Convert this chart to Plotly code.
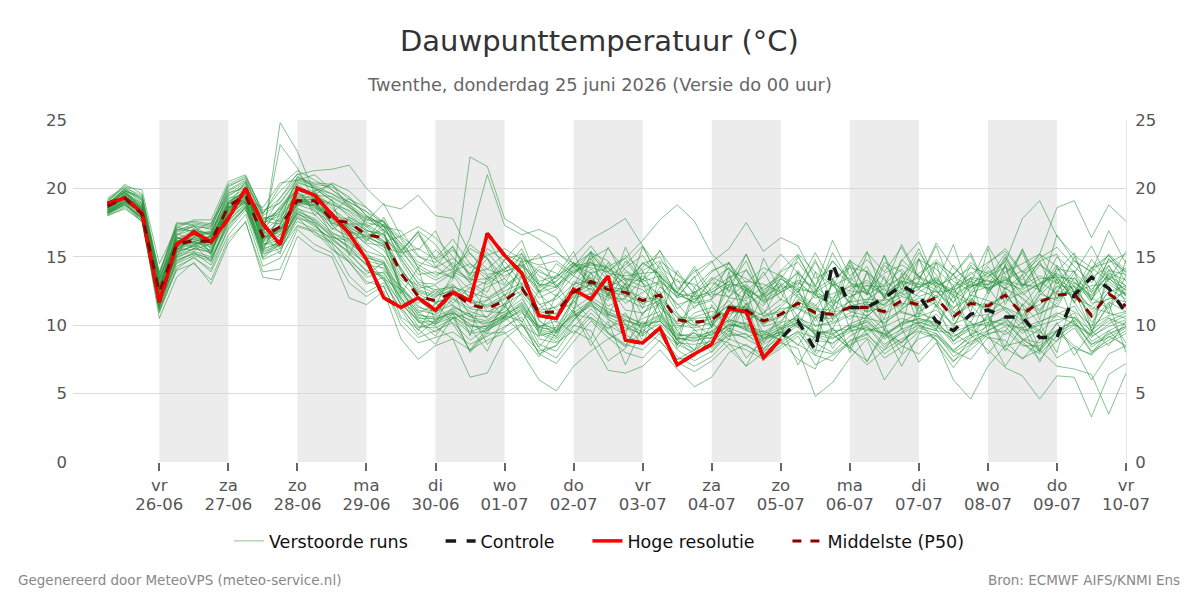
import plotly.graph_objects as go
import pandas as pd

# ---------------- data ----------------
times = pd.date_range("2026-06-25 06:00", periods=60, freq="6h")

day_ticks = ["2026-06-26", "2026-06-27", "2026-06-28", "2026-06-29", "2026-06-30",
             "2026-07-01", "2026-07-02", "2026-07-03", "2026-07-04", "2026-07-05",
             "2026-07-06", "2026-07-07", "2026-07-08", "2026-07-09", "2026-07-10"]
day_names = ["vr", "za", "zo", "ma", "di", "wo", "do", "vr", "za", "zo", "ma", "di", "wo", "do", "vr"]
day_labels = ["26-06", "27-06", "28-06", "29-06", "30-06", "01-07", "02-07", "03-07",
              "04-07", "05-07", "06-07", "07-07", "08-07", "09-07", "10-07"]
shade_start = ["2026-06-26", "2026-06-28", "2026-06-30", "2026-07-02", "2026-07-04", "2026-07-06", "2026-07-08"]
shade_end = ["2026-06-27", "2026-06-29", "2026-07-01", "2026-07-03", "2026-07-05", "2026-07-07", "2026-07-09"]

p50 = [18.7,19.3,18.1,12.4,15.9,16.2,16.1,18.7,19.5,16.5,17.2,19.1,19.1,17.7,17.5,16.6,16.4,13.8,12.1,11.8,
       12.4,11.5,11.2,11.8,12.7,10.9,11.0,12.4,13.2,12.6,12.4,11.8,12.2,10.4,10.2,10.4,11.3,11.1,10.3,10.8,
       11.6,10.9,10.8,11.3,11.3,11.0,11.8,11.5,12.0,10.6,11.6,11.4,12.2,10.8,11.7,12.2,12.3,10.7,12.3,11.4]

hres = [18.9,19.3,18.2,11.7,15.9,16.8,16.1,17.8,20.0,17.4,15.9,20.0,19.5,18.1,16.7,14.8,12.0,11.3,12.0,11.1,
        12.4,11.8,16.7,15.1,13.8,10.7,10.5,12.6,11.9,13.6,8.9,8.7,9.8,7.1,7.9,8.6,11.2,11.0,7.6,9.0]

control = [18.9,19.3,18.2,11.7,15.9,16.8,16.1,17.8,20.0,17.4,15.9,20.0,19.5,18.1,16.7,14.8,12.0,11.3,12.0,11.1,
           12.4,11.8,16.7,15.1,13.8,10.7,10.5,12.6,11.9,13.6,8.9,8.7,9.8,7.1,7.9,8.6,11.2,11.0,7.6,9.0,
           10.3,8.2,14.5,11.3,11.3,12.0,12.9,12.2,10.3,9.6,10.8,11.1,10.6,10.6,9.1,9.1,12.2,13.5,12.7,10.9]

m01 = [18.5,19.6,18.8,12.9,16.4,16.0,15.2,18.9,19.8,16.1,17.9,19.5,18.6,18.2,17.0,15.9,15.1,13.2,11.8,10.9,12.9,12.1,10.4,11.2,13.5,11.6,10.2,12.9,14.1,13.0,11.6,12.4,13.1,10.9,9.6,9.8,12.0,11.8,9.4,10.1,12.3,11.5,9.7,12.1,12.6,10.4,11.1,12.4,13.2,11.0,10.2,12.5,13.4,11.9,10.8,11.6,13.1,12.0,11.2,12.8]
m02 = [18.9,19.9,18.5,11.6,15.2,16.5,16.9,19.4,20.3,17.2,16.4,18.7,19.9,17.3,16.2,14.8,13.4,12.6,10.9,11.5,13.7,11.9,12.8,13.4,12.1,9.8,10.6,13.2,12.6,11.8,13.9,13.1,11.4,9.6,10.9,11.3,10.5,12.4,11.1,9.7,10.8,12.2,11.6,10.4,11.9,12.7,10.9,10.6,12.9,12.2,11.5,10.1,12.8,11.4,13.0,13.6,11.7,9.8,13.5,12.1]
m03 = [18.2,19.0,17.9,13.1,16.8,17.2,16.5,18.1,19.0,15.4,18.3,20.1,19.3,18.8,18.4,17.5,17.2,14.9,13.0,12.6,11.4,10.6,11.9,12.7,14.0,12.3,11.1,11.6,13.8,14.2,12.9,10.7,12.8,11.6,10.1,9.2,11.4,12.9,10.6,11.5,12.7,9.9,10.3,11.8,10.6,11.9,13.1,11.0,11.7,9.8,12.4,12.8,11.0,10.1,12.2,13.4,12.6,11.3,10.9,10.5]
m04 = [19.1,20.3,19.6,13.8,17.5,17.3,17.0,20.1,20.8,18.4,18.9,20.6,20.2,19.6,19.0,18.3,16.9,15.8,14.2,13.5,14.6,13.1,12.4,14.8,15.2,13.6,12.9,14.1,15.3,14.7,13.2,14.5,15.0,12.8,11.9,12.6,13.5,14.0,12.1,12.9,13.8,12.6,13.4,14.2,13.9,12.5,13.6,14.8,14.1,12.9,13.7,14.6,15.4,13.8,14.9,15.7,14.3,13.1,15.2,14.0]
m05 = [18.0,18.6,17.6,10.9,14.1,15.0,13.9,16.6,18.1,14.3,14.9,17.2,16.8,16.1,14.6,13.2,12.8,10.4,9.1,9.6,10.2,8.9,9.8,10.5,11.1,8.6,8.1,9.9,11.2,10.0,9.3,8.6,9.9,8.2,7.4,8.1,9.6,9.0,8.3,9.1,10.0,8.7,8.0,9.2,9.9,8.4,9.5,10.3,9.7,8.1,9.3,9.9,10.6,9.0,8.7,10.1,10.9,8.8,9.6,10.2]
m06 = [18.6,19.4,18.3,12.2,15.6,15.9,16.3,18.5,19.3,16.8,15.2,19.2,18.9,17.0,17.8,16.1,17.4,14.6,12.7,12.9,11.6,12.8,11.0,10.9,12.4,11.2,12.1,13.6,12.9,11.4,12.0,13.4,12.1,10.8,9.9,10.7,11.8,10.4,10.9,11.9,11.2,10.5,11.9,11.0,10.7,11.6,12.4,11.2,12.6,11.3,12.0,10.9,11.8,12.4,11.1,12.9,12.0,11.4,12.7,11.9]
m07 = [18.4,19.1,18.0,11.3,15.4,16.7,15.6,18.2,19.6,17.6,17.4,19.8,18.3,17.5,16.9,16.0,15.8,12.9,11.4,10.7,11.9,11.0,10.6,11.6,13.0,10.3,9.6,12.0,12.3,12.9,11.1,10.9,11.6,9.8,10.6,11.0,10.8,11.4,9.9,10.3,11.9,11.3,10.2,10.9,11.6,10.1,11.2,12.0,11.5,10.0,11.9,11.1,12.5,10.4,12.3,11.8,12.9,10.2,11.7,11.0]
m08 = [19.0,19.7,18.9,13.5,16.1,16.6,16.7,19.6,20.4,18.1,20.2,21.3,20.6,19.9,18.9,17.3,16.4,15.3,15.6,14.8,13.9,14.5,13.6,12.9,13.8,12.7,13.5,14.6,13.4,12.5,14.2,15.1,13.3,12.0,12.4,13.1,12.6,11.9,12.8,13.6,12.1,11.4,12.9,13.5,12.2,13.0,14.1,12.7,13.4,12.3,13.9,12.6,13.3,14.0,12.6,14.4,13.2,12.1,13.8,13.3]
m09 = [18.3,18.8,17.8,10.5,13.5,14.6,13.0,16.0,17.6,13.5,13.3,16.5,15.5,15.0,12.0,11.5,12.5,9.0,7.5,8.5,9.0,8.2,8.9,9.4,10.1,7.9,7.2,8.8,10.3,9.1,8.0,7.6,8.9,7.3,6.6,7.4,8.6,8.2,7.5,8.3,9.2,7.1,7.8,8.6,9.1,7.6,8.4,9.5,9.0,7.4,8.2,9.3,9.9,8.6,7.9,9.2,10.0,8.1,8.9,9.6]
m10 = [18.8,19.5,18.4,12.0,16.0,16.3,15.8,18.6,19.1,16.2,24.8,22.7,19.6,18.5,17.6,16.3,15.5,13.4,12.5,12.1,12.6,11.3,11.5,12.2,12.9,10.8,11.4,12.7,13.5,12.2,12.8,11.5,12.5,10.1,10.4,10.0,11.1,10.8,10.5,11.2,11.4,11.1,10.6,11.5,11.0,11.3,12.1,11.7,11.8,10.8,11.4,11.6,12.0,11.1,11.5,12.5,12.2,10.9,12.0,11.7]
m11 = [18.7,19.2,18.6,12.6,16.2,15.6,16.4,18.8,19.9,16.6,23.2,21.5,19.0,17.9,17.3,16.8,16.0,14.2,12.3,11.6,12.2,11.7,11.3,11.9,12.5,11.0,10.8,12.2,13.0,12.8,12.6,12.0,11.9,10.6,10.0,10.5,11.5,11.2,10.1,10.6,11.8,10.7,11.0,11.1,11.5,10.8,11.6,11.4,12.2,10.5,11.8,11.2,12.4,10.6,11.9,12.0,12.5,10.5,12.5,11.2]
m12 = [18.1,18.9,17.5,11.1,14.7,15.3,14.4,17.1,18.7,15.0,16.3,18.2,17.4,15.9,13.6,12.4,13.1,11.2,9.8,10.2,10.8,9.5,10.0,10.8,11.4,9.4,8.8,10.4,11.9,10.9,10.1,9.5,10.7,8.9,8.2,8.9,10.1,9.7,8.8,9.6,10.6,9.3,8.6,9.9,10.4,9.1,10.2,10.9,10.4,8.8,9.9,10.5,11.2,9.7,9.4,10.8,11.4,9.4,10.3,10.9]
m13 = [19.3,20.1,19.9,14.5,17.1,17.7,17.7,20.5,21.0,18.2,19.8,21.0,21.3,21.4,21.7,20.0,18.8,18.5,19.5,18.0,17.8,15.2,14.1,13.6,14.3,12.4,12.8,13.9,14.6,13.3,12.7,13.6,12.9,11.5,11.9,12.3,12.1,13.0,11.6,12.4,13.1,12.2,11.4,12.6,13.3,12.1,12.9,13.5,12.8,11.7,12.9,13.0,13.6,12.2,13.1,13.8,12.9,11.9,13.4,12.6]
m14 = [18.5,19.4,18.7,12.7,16.6,17.0,16.6,19.2,20.0,17.0,18.4,20.3,19.4,18.9,18.1,17.0,16.2,14.1,12.4,12.0,13.3,22.3,21.6,17.8,17.0,16.3,15.4,14.2,13.1,12.1,13.0,12.6,11.3,10.2,11.4,11.8,10.2,11.6,10.0,11.3,12.5,10.3,11.5,12.4,10.9,12.0,11.3,13.2,12.6,10.9,12.2,11.8,11.3,10.7,12.6,11.3,13.5,11.6,11.9,12.4]
m15 = [18.6,19.8,19.2,13.3,16.9,17.4,17.2,19.9,20.6,17.9,17.6,20.9,20.1,19.3,18.6,17.8,17.0,15.6,13.7,13.9,13.5,16.4,21.0,17.3,16.6,17.0,16.4,14.4,13.8,12.6,12.4,14.6,13.7,11.2,12.2,13.5,12.9,11.5,12.3,13.1,12.0,11.0,13.0,12.5,12.4,11.4,12.7,12.1,12.5,11.2,12.8,13.3,12.7,12.0,11.0,12.8,12.8,11.1,12.4,12.9]
m16 = [18.8,19.7,18.9,13.0,16.3,16.9,17.5,19.5,20.2,17.3,18.6,20.4,20.0,19.1,17.9,16.9,16.6,14.8,13.1,13.0,13.8,12.6,13.2,14.1,15.0,13.9,13.4,15.0,16.3,17.0,17.8,15.8,14.1,12.4,11.6,13.3,14.2,12.7,11.8,12.6,13.3,12.8,16.2,13.6,14.8,13.3,12.3,13.8,14.6,13.2,12.5,13.6,14.2,13.0,12.8,14.1,13.9,12.6,14.0,13.7]
m17 = [18.4,19.3,18.3,12.3,15.7,16.1,16.5,18.3,19.4,16.9,17.8,19.6,19.2,17.7,17.2,16.4,15.9,13.6,12.9,12.3,12.8,12.4,12.0,12.8,13.6,12.0,12.6,13.8,14.5,14.3,14.9,16.2,17.7,18.8,17.6,15.2,14.0,13.4,12.6,13.4,12.6,12.4,13.2,12.0,12.9,12.8,13.5,13.0,12.4,12.6,13.2,12.7,13.3,12.9,13.6,13.1,12.4,12.9,13.0,12.2]
m18 = [18.7,19.5,18.0,12.1,15.5,16.4,16.2,18.4,19.2,16.4,16.8,18.9,19.0,17.4,17.9,17.2,17.7,15.1,13.4,12.4,13.0,11.6,11.8,12.5,13.1,11.5,11.9,13.0,13.3,12.8,13.4,12.8,13.2,12.1,13.5,14.6,15.6,17.5,15.4,16.4,15.8,13.4,14.1,13.1,12.6,13.8,14.4,13.6,12.9,13.4,14.2,13.8,12.6,13.7,14.5,13.3,12.1,13.5,14.3,12.8]
m19 = [18.3,19.0,18.2,12.5,15.8,16.0,15.9,18.0,19.0,16.0,17.0,19.0,18.8,17.8,17.4,16.7,16.1,13.9,12.0,11.7,12.0,11.2,11.0,11.5,12.3,10.6,10.9,12.1,12.7,12.0,11.9,11.3,11.8,10.0,9.8,10.2,11.0,10.9,10.2,10.7,11.3,10.6,10.5,11.4,11.7,11.5,12.5,12.8,13.5,12.0,13.0,13.8,14.6,17.8,19.1,16.5,15.1,14.2,14.6,15.2]
m20 = [18.6,19.2,18.4,12.8,16.1,16.6,16.0,18.7,19.7,16.7,17.5,19.3,19.4,18.0,17.7,16.9,16.7,14.0,12.6,12.2,12.5,11.9,11.4,12.0,12.8,11.1,11.3,12.5,13.0,12.4,12.2,11.6,12.0,10.6,10.5,10.6,11.4,11.3,10.7,11.0,11.7,11.2,11.1,11.7,11.9,11.8,12.2,12.6,12.0,12.8,13.4,12.9,13.9,14.5,15.2,18.6,19.1,16.4,18.8,17.6]
m21 = [18.2,18.9,17.7,11.4,14.5,15.1,14.7,17.4,18.5,15.2,15.6,17.6,17.0,16.4,15.3,13.9,13.6,11.5,10.4,9.9,9.0,6.2,6.5,9.0,10.0,9.2,9.6,10.8,10.5,9.8,10.4,9.9,10.3,9.1,8.8,9.4,9.9,10.2,9.0,9.3,10.2,9.6,9.4,10.0,9.6,9.9,10.5,10.1,10.8,9.5,10.0,10.4,10.0,9.8,10.3,10.7,10.1,9.2,9.9,10.4]
m22 = [18.5,19.3,18.1,12.0,15.3,15.8,15.5,18.1,19.1,15.8,16.6,18.5,18.1,16.8,16.0,15.0,14.5,12.2,10.8,10.4,10.9,10.1,9.4,9.5,8.0,6.0,5.2,7.0,8.1,9.0,9.6,10.5,11.0,9.4,9.0,9.6,10.4,10.0,9.5,10.2,10.5,10.0,10.1,10.7,10.5,10.2,11.0,10.6,11.1,10.1,10.6,10.8,11.3,10.3,10.9,11.4,11.0,10.0,10.7,11.0]
m23 = [18.1,18.7,17.7,11.0,14.3,14.9,14.1,17.0,18.4,14.8,15.4,17.9,16.6,16.0,14.9,13.5,13.9,11.8,9.9,9.8,10.5,9.4,9.6,10.4,11.0,9.0,8.7,9.6,8.9,6.7,6.5,7.0,8.2,6.8,5.5,6.2,8.0,8.6,7.6,8.5,9.4,8.2,7.9,8.8,9.3,8.2,9.0,9.6,9.2,8.0,8.8,9.4,9.6,8.5,8.5,9.5,10.1,8.6,9.1,9.8]
m24 = [18.4,19.0,17.8,11.8,15.0,15.4,15.0,17.6,18.9,15.6,16.0,18.4,17.6,16.6,15.7,14.4,14.2,11.9,10.6,10.1,10.6,9.9,9.9,10.6,11.6,9.6,9.2,10.6,11.4,10.6,10.0,9.2,10.4,8.6,8.0,8.5,9.2,9.4,8.1,8.7,8.3,4.8,5.8,7.6,9.0,6.0,7.8,9.0,9.4,8.2,9.1,9.6,10.2,9.0,8.1,9.6,10.3,8.6,9.4,9.9]
m25 = [18.2,18.8,17.9,11.5,14.8,15.2,14.9,17.3,18.6,15.3,15.8,18.0,17.2,16.3,15.2,14.0,13.8,12.0,10.2,10.3,11.0,10.0,9.7,10.3,11.2,9.5,9.0,10.4,11.6,10.4,9.8,9.4,10.1,8.7,8.6,8.8,9.8,9.3,8.6,9.4,10.1,8.9,8.7,9.5,10.0,8.6,9.4,10.0,8.9,6.0,4.6,7.0,8.5,8.8,7.5,8.9,9.8,8.0,8.7,9.4]
m26 = [18.6,19.3,18.2,12.4,15.9,16.1,15.7,18.3,19.3,16.3,16.9,18.8,18.4,17.1,16.5,15.4,15.0,12.8,11.3,11.0,11.5,10.6,10.3,11.0,11.9,10.0,9.8,11.2,12.1,11.2,10.7,10.1,10.8,9.3,9.2,9.5,10.4,10.1,9.3,9.9,10.7,9.6,9.3,10.1,10.6,9.3,10.0,10.5,10.1,8.6,9.3,8.2,6.9,6.3,4.6,6.3,6.2,3.3,6.4,7.2]
m27 = [18.3,19.1,18.0,11.9,15.1,15.6,15.3,17.9,18.8,15.9,16.2,18.3,17.8,16.7,16.3,15.1,14.7,12.5,10.7,10.6,11.2,10.3,10.1,10.8,11.7,9.9,9.5,10.9,11.8,11.0,10.4,9.8,10.5,9.0,8.9,9.1,10.1,9.8,9.0,9.8,10.4,9.3,9.0,9.8,10.2,9.0,9.7,10.2,9.9,8.9,9.7,9.1,8.3,7.6,8.2,7.0,6.8,6.4,3.5,6.5]
m28 = [18.9,19.8,19.4,13.2,17.2,16.8,16.8,19.3,19.5,17.8,18.1,20.0,19.5,20.4,19.8,18.6,17.2,16.9,15.1,14.2,15.8,13.6,16.3,14.2,12.6,14.1,13.0,11.2,14.9,12.1,15.7,13.1,10.4,14.0,12.2,9.9,13.6,10.8,14.9,12.4,10.6,13.9,10.4,14.4,11.0,13.6,9.7,14.9,11.3,13.8,10.9,15.6,11.5,13.7,10.4,14.3,11.6,13.9,10.8,14.8]
m29 = [18.5,19.4,18.6,12.6,15.0,17.1,15.1,18.8,20.5,15.6,17.3,20.2,18.0,19.2,15.1,18.0,16.8,12.3,14.2,10.1,12.7,9.2,13.6,11.3,14.9,9.2,12.3,10.9,15.4,10.7,13.1,9.2,13.7,8.5,12.5,9.8,13.9,9.6,12.4,9.0,13.9,9.1,13.4,9.7,14.0,9.6,13.8,10.7,14.6,10.3,13.5,9.4,14.5,10.5,9.6,13.4,10.1,9.3,14.1,11.6]
m30 = [18.7,20.0,19.1,12.9,16.5,15.7,16.6,19.0,19.8,17.1,16.6,19.4,19.7,18.7,17.0,16.2,17.9,15.5,16.8,14.3,13.4,15.9,14.9,13.0,15.3,12.4,13.6,15.4,12.2,14.6,12.0,15.7,13.5,12.4,14.1,11.9,14.6,12.0,13.9,11.8,15.0,12.9,11.7,14.8,12.3,15.1,12.6,14.8,13.0,15.9,12.1,14.3,12.6,15.5,13.2,12.3,15.0,12.4,14.8,13.9]
m31 = [18.6,19.6,18.8,12.4,16.7,16.2,15.4,18.4,19.7,16.0,15.8,18.6,17.5,15.6,14.7,13.7,14.6,11.4,9.6,11.7,10.1,8.2,9.8,11.4,10.0,8.4,9.9,11.8,10.4,9.4,8.4,10.9,11.9,8.3,9.7,8.3,9.8,7.6,9.0,9.5,8.5,10.6,8.3,9.9,7.3,9.7,8.7,10.2,8.9,7.3,9.0,10.7,8.1,9.9,7.3,9.7,8.5,7.8,9.2,8.5]
m32 = [18.2,19.1,18.5,12.2,15.5,16.8,16.2,18.0,19.6,16.9,18.7,19.9,19.8,20.3,18.6,17.6,18.9,16.5,15.5,16.9,14.2,15.3,13.7,14.0,15.6,12.8,14.5,13.6,15.4,13.9,14.9,13.3,15.5,12.6,13.9,14.7,12.4,15.2,12.4,14.0,15.2,13.9,12.9,14.7,13.9,12.8,15.9,13.5,14.8,13.6,12.7,14.5,15.6,13.9,15.2,13.0,14.7,13.9,15.1,13.8]
m33 = [18.8,19.7,18.4,13.4,16.4,16.0,16.1,18.7,18.9,15.7,17.4,19.0,18.7,16.6,15.6,14.4,13.3,11.1,9.3,10.4,11.1,9.8,8.1,10.7,10.3,7.9,8.5,10.3,11.7,9.4,8.5,10.3,9.3,7.5,7.7,9.1,8.7,7.0,8.0,9.5,8.6,7.8,9.3,8.3,7.4,9.3,8.5,7.9,9.3,8.1,7.5,9.1,8.9,7.5,9.0,9.6,8.3,7.9,9.6,8.3]
m34 = [18.4,19.2,18.3,11.9,15.7,16.4,16.8,19.0,19.9,16.5,17.0,19.2,19.2,18.2,19.3,18.0,17.3,16.3,14.2,15.5,14.4,13.1,15.6,14.7,13.0,14.3,13.8,12.9,15.1,13.9,12.6,14.2,15.4,13.7,12.3,13.9,14.6,12.5,13.6,15.2,13.8,12.4,14.7,13.2,12.2,14.6,13.9,12.6,14.6,13.7,15.1,12.3,14.3,13.3,15.2,14.3,12.4,14.2,15.1,13.6]
m35 = [19.2,20.0,19.5,13.7,17.3,17.5,17.3,20.3,20.9,18.2,19.3,20.8,20.4,20.3,19.2,18.6,17.5,16.4,15.0,14.6,15.5,14.2,15.1,15.6,14.8,14.4,14.7,13.8,14.9,15.6,14.0,13.3,14.3,13.2,13.0,12.1,12.8,13.2,13.0,12.4,14.0,12.2,15.3,13.1,11.6,14.4,13.0,15.3,13.7,11.6,14.4,12.9,15.0,12.8,14.7,11.9,13.8,15.8,13.3,14.2]
m36 = [18.0,18.5,17.6,11.2,14.0,14.5,13.3,16.3,17.5,13.9,14.1,17.0,15.9,15.3,13.1,12.1,12.9,10.0,8.7,9.1,9.5,8.6,9.2,9.9,10.6,8.3,7.6,9.3,10.6,9.5,8.6,8.2,9.4,7.7,7.0,7.7,9.0,8.5,7.9,8.7,9.6,7.8,7.4,8.9,9.4,7.9,8.8,9.8,9.4,7.7,8.6,9.6,10.3,8.9,8.3,9.6,10.4,8.4,9.3,9.9]
m37 = [18.9,19.9,19.3,13.6,17.4,17.6,17.4,20.2,20.7,18.0,19.0,20.7,20.3,20.1,19.4,18.0,17.3,16.0,14.6,14.2,14.9,13.8,14.1,15.2,14.6,14.9,15.3,14.5,14.2,13.9,15.1,14.0,14.7,13.7,12.8,14.0,14.5,13.1,14.2,13.6,12.9,15.3,13.0,11.7,15.3,13.9,15.7,13.3,16.0,14.2,13.1,15.8,13.7,15.3,12.4,16.6,14.7,13.9,16.9,14.5]
m38 = [18.3,19.2,18.1,11.7,15.1,15.9,14.6,17.8,19.2,14.9,16.0,18.2,17.3,16.2,15.4,14.5,13.3,11.6,10.3,9.5,10.5,10.9,8.6,9.8,10.9,9.9,10.3,9.4,10.9,9.7,10.9,8.9,9.6,8.6,9.5,8.0,9.4,9.1,9.6,8.9,9.5,9.1,9.8,8.4,9.7,9.4,8.7,9.9,9.6,9.4,8.6,10.1,9.3,10.2,9.5,8.8,10.6,9.6,8.5,10.3]
m39 = [18.6,19.5,18.7,12.8,16.3,16.6,16.4,18.9,19.4,17.5,18.0,19.7,18.7,17.6,16.9,15.3,14.0,12.8,11.1,10.8,12.3,13.0,12.1,10.4,13.8,10.4,9.1,11.9,13.9,10.5,9.2,14.0,11.0,8.9,12.8,10.2,8.9,12.7,10.8,13.0,9.9,8.0,13.4,11.6,9.3,10.5,13.3,10.0,9.6,12.9,9.3,12.2,14.4,10.2,8.0,12.5,14.0,9.6,11.4,13.6]
m40 = [18.5,19.6,18.2,12.5,16.6,17.3,15.9,18.5,20.1,16.3,17.7,19.0,19.1,17.3,17.4,17.4,16.6,15.0,16.6,14.8,15.7,13.4,14.9,12.1,14.3,15.2,12.7,14.5,12.8,15.7,13.3,11.2,14.6,12.0,13.6,10.2,12.9,14.7,11.8,13.4,15.1,12.7,11.2,14.6,12.3,15.1,11.4,13.2,15.8,12.5,11.7,14.0,12.9,15.6,12.4,13.9,15.3,11.8,14.4,12.1]
m41 = [18.9,19.3,18.6,12.3,15.6,15.5,16.0,18.6,19.0,16.7,16.9,18.9,19.3,17.8,17.1,16.5,17.0,12.7,10.3,9.2,10.9,8.0,9.4,11.6,9.2,7.7,9.5,11.0,8.5,10.3,7.1,9.9,11.7,8.9,7.8,10.1,9.2,11.6,8.2,9.9,7.1,9.3,11.4,8.0,10.8,9.7,7.0,9.3,11.5,8.8,10.3,7.9,9.5,11.5,8.1,10.2,7.8,9.5,11.6,8.0]
m42 = [18.3,19.0,18.3,12.1,15.4,15.8,16.6,18.4,19.5,16.2,17.2,19.3,18.5,18.1,16.8,16.6,15.7,15.3,16.9,15.9,14.1,15.6,14.9,13.4,14.7,12.5,13.2,14.6,13.2,12.2,14.7,13.1,12.2,13.4,11.2,12.8,14.2,12.3,11.4,13.4,12.4,14.6,12.9,11.6,13.8,12.0,14.8,13.6,12.0,14.4,12.8,13.4,14.7,12.7,14.4,13.6,11.7,14.2,13.2,12.3]
m43 = [19.1,19.9,19.0,13.9,17.0,16.9,16.7,19.7,20.0,17.6,18.5,19.9,19.5,19.4,18.7,17.7,17.6,15.9,14.4,13.7,14.1,13.4,13.0,13.9,14.5,13.2,13.6,14.3,14.6,13.8,13.6,13.8,13.9,12.3,12.1,12.4,13.2,12.5,12.0,12.8,12.8,12.3,12.0,12.9,13.1,12.3,13.2,13.0,13.1,12.4,13.5,13.2,13.1,12.6,13.4,13.5,13.4,12.4,13.6,12.9]
m44 = [18.2,18.9,17.8,11.3,14.9,15.6,15.4,17.7,18.7,15.5,16.1,18.1,17.7,16.4,16.2,14.9,14.6,12.4,11.0,10.0,11.3,10.8,9.8,10.7,11.5,9.7,9.4,10.7,11.7,10.8,10.3,10.0,10.7,9.2,9.4,9.0,10.0,9.9,9.1,9.5,10.3,9.4,9.6,9.7,10.3,9.2,10.2,10.4,10.0,9.2,9.8,10.2,10.4,9.6,10.0,10.4,10.6,9.1,10.1,10.7]
m45 = [18.7,19.7,18.5,12.7,16.2,16.3,16.3,19.1,19.6,17.3,19.3,21.1,20.0,19.1,18.3,17.2,16.1,16.5,17.2,16.4,15.0,13.7,15.3,13.9,14.4,12.9,13.2,14.3,15.8,14.1,13.0,14.5,13.7,12.2,11.7,13.4,12.0,14.1,12.1,13.7,12.4,14.8,11.6,13.2,14.3,11.9,13.4,15.6,12.7,13.7,15.3,12.5,14.9,13.0,12.6,15.0,13.9,11.8,14.9,13.2]
m46 = [18.6,19.4,18.5,12.5,15.3,16.9,16.0,18.9,19.5,17.0,15.6,17.3,16.9,15.5,14.6,13.0,13.5,10.6,9.7,8.6,10.6,8.1,9.6,10.6,9.4,8.1,8.5,10.0,9.6,7.4,8.3,9.7,8.8,7.5,8.2,9.6,8.3,7.0,9.4,8.9,7.5,6.8,9.8,8.4,7.1,8.2,9.8,7.3,8.7,6.9,8.5,9.4,7.0,8.9,9.7,7.6,8.4,6.0,7.9,8.5]
m47 = [18.8,19.8,18.3,12.6,16.0,16.1,16.5,18.6,19.2,18.6,20.4,20.6,21.0,19.9,19.0,18.3,17.5,15.4,16.8,14.9,16.3,14.5,13.3,14.8,16.2,13.0,12.1,14.4,15.3,13.5,14.4,15.8,13.2,12.4,14.3,12.4,13.2,15.2,12.2,13.9,14.6,12.9,14.7,13.3,15.4,12.0,14.7,16.1,13.1,12.6,14.6,13.5,15.2,12.9,14.7,15.2,12.3,14.8,13.3,15.4]
m48 = [18.4,19.3,18.4,12.9,15.9,16.5,15.3,18.2,19.8,16.1,17.1,18.8,18.8,18.0,16.3,16.5,15.9,12.6,11.6,12.6,12.8,10.7,10.6,12.3,10.2,12.6,9.4,11.1,9.0,12.4,10.0,8.6,11.9,9.6,8.1,11.5,9.5,12.7,8.7,10.9,9.8,12.6,9.4,8.3,11.5,10.0,7.9,11.4,9.7,12.2,9.2,10.8,8.4,11.6,10.1,8.0,12.5,9.6,10.6,8.7]
m49 = [19.0,20.2,19.2,13.4,17.0,17.2,17.1,19.8,20.5,17.7,18.3,20.5,20.0,19.6,18.8,17.9,17.2,15.4,14.0,13.3,13.9,13.3,13.4,14.2,14.4,13.0,12.8,14.0,14.4,14.2,13.4,13.2,13.6,12.4,11.6,11.9,13.0,12.8,11.7,12.4,13.2,12.0,12.3,12.8,12.9,12.2,13.2,12.8,13.3,12.2,13.0,12.7,13.5,12.4,13.0,13.7,13.1,12.2,13.7,12.5]
m50 = [18.1,18.8,17.9,11.6,14.6,15.3,14.8,17.5,18.6,15.4,15.9,17.8,17.5,16.5,15.8,14.7,14.4,12.0,10.5,10.5,10.9,10.4,10.2,10.6,11.3,9.8,9.7,10.7,11.5,10.7,10.6,10.1,10.3,9.0,9.1,9.3,10.3,9.6,9.2,9.7,10.2,9.5,9.1,9.6,9.8,9.4,10.1,10.5,10.2,9.1,10.1,10.0,10.6,9.4,10.2,10.9,10.5,9.3,10.5,10.0]

members = [m01, m02, m03, m04, m05, m06, m07, m08, m09, m10, m11, m12, m13, m14, m15, m16, m17,
           m18, m19, m20, m21, m22, m23, m24, m25, m26, m27, m28, m29, m30, m31, m32, m33, m34,
           m35, m36, m37, m38, m39, m40, m41, m42, m43, m44, m45, m46, m47, m48, m49, m50]

bad = [(i + 1, len(m)) for i, m in enumerate(members) if len(m) != 60]
assert not bad, f"length mismatch: {bad}, p50={len(p50)}, control={len(control)}, hres={len(hres)}"
assert len(p50) == 60 and len(control) == 60 and len(hres) == 40

legend_names = ["Verstoorde runs", "Controle", "Hoge resolutie", "Middelste (P50)"]

# ---------------- figure ----------------
FONT = "DejaVu Sans"
PAD = "\u00a0" * 5
fig = go.Figure()

for i, m in enumerate(members):
    fig.add_trace(go.Scatter(
        x=times, y=m, mode="lines", name=legend_names[0] + PAD,
        legendgroup="runs", showlegend=(i == 0),
        line=dict(color="rgba(34,145,56,0.55)", width=1),
        hoverinfo="skip"))

fig.add_trace(go.Scatter(x=times, y=control, mode="lines", name=legend_names[1] + PAD,
                         line=dict(color="#1a1a1a", width=3.5, dash="dash")))
fig.add_trace(go.Scatter(x=times[:len(hres)], y=hres, mode="lines", name=legend_names[2] + PAD,
                         line=dict(color="#ff0000", width=3.5)))
fig.add_trace(go.Scatter(x=times, y=p50, mode="lines", name=legend_names[3],
                         line=dict(color="#8b0000", width=3, dash="dash")))
# invisible traces that carry the right-hand y axis and the second x label row
fig.add_trace(go.Scatter(x=[times[0]], y=[None], yaxis="y2", showlegend=False,
                         hoverinfo="skip", mode="lines"))
fig.add_trace(go.Scatter(x=[times[0]], y=[None], xaxis="x2", showlegend=False,
                         hoverinfo="skip", mode="lines"))

shapes = [dict(type="rect", xref="x", yref="paper", x0=s, x1=e, y0=0, y1=1,
               fillcolor="#ececec", line=dict(width=0), layer="below")
          for s, e in zip(shade_start, shade_end)]

tickfont = dict(family=FONT, size=16.5, color="#555")

fig.update_layout(
    width=1200, height=600,
    paper_bgcolor="white", plot_bgcolor="white",
    margin=dict(l=73, r=74, t=120, b=138),
    font=dict(family=FONT, color="#555", size=16),
    shapes=shapes,
    showlegend=True,
    legend=dict(orientation="h", x=0.5, xanchor="center", y=-0.231, yanchor="middle",
                font=dict(family=FONT, size=17.5, color="#111"), itemwidth=30,
                bgcolor="rgba(0,0,0,0)"),
    xaxis=dict(type="date", range=["2026-06-24 18:00", "2026-07-10 00:00"],
               tickmode="array", tickvals=day_ticks, ticktext=day_names,
               ticks="outside", ticklen=8, tickwidth=2, tickcolor="#666",
               showgrid=False, zeroline=False, showline=False,
               tickfont=tickfont),
    xaxis2=dict(type="date", matches="x", overlaying="x", anchor="y", side="bottom",
                tickmode="array", tickvals=day_ticks, ticktext=day_labels,
                ticks="", ticklabelstandoff=30,
                showgrid=False, zeroline=False, showline=False,
                tickfont=tickfont),
    yaxis=dict(range=[0, 25], tickmode="array", tickvals=[0, 5, 10, 15, 20, 25],
               showgrid=True, gridcolor="#dadada", gridwidth=1, zeroline=False,
               ticks="", ticklabelstandoff=5, tickfont=tickfont),
    yaxis2=dict(range=[0, 25], tickmode="array", tickvals=[0, 5, 10, 15, 20, 25],
                overlaying="y", side="right", showgrid=False, zeroline=False,
                showline=True, linecolor="#e6e6e6", linewidth=1,
                ticks="", ticklabelstandoff=5, tickfont=tickfont),
    hovermode=False,
    annotations=[
        dict(text="Dauwpunttemperatuur (°C)", xref="paper", yref="paper", x=0.5, y=1.231,
             xanchor="center", yanchor="middle", showarrow=False,
             font=dict(family=FONT, size=29, color="#333")),
        dict(text="Twenthe, donderdag 25 juni 2026 (Versie do 00 uur)", xref="paper", yref="paper",
             x=0.5, y=1.105, xanchor="center", yanchor="middle", showarrow=False,
             font=dict(family=FONT, size=17.8, color="#666")),
        dict(text="Gegenereerd door MeteoVPS (meteo-service.nl)", xref="paper", yref="paper",
             x=-0.054, y=-0.345, xanchor="left", yanchor="middle", showarrow=False,
             font=dict(family=FONT, size=13.5, color="#888")),
        dict(text="Bron: ECMWF AIFS/KNMI Ens", xref="paper", yref="paper",
             x=1.053, y=-0.345, xanchor="right", yanchor="middle", showarrow=False,
             font=dict(family=FONT, size=13.5, color="#888")),
    ],
)

fig.write_html("out.html")
